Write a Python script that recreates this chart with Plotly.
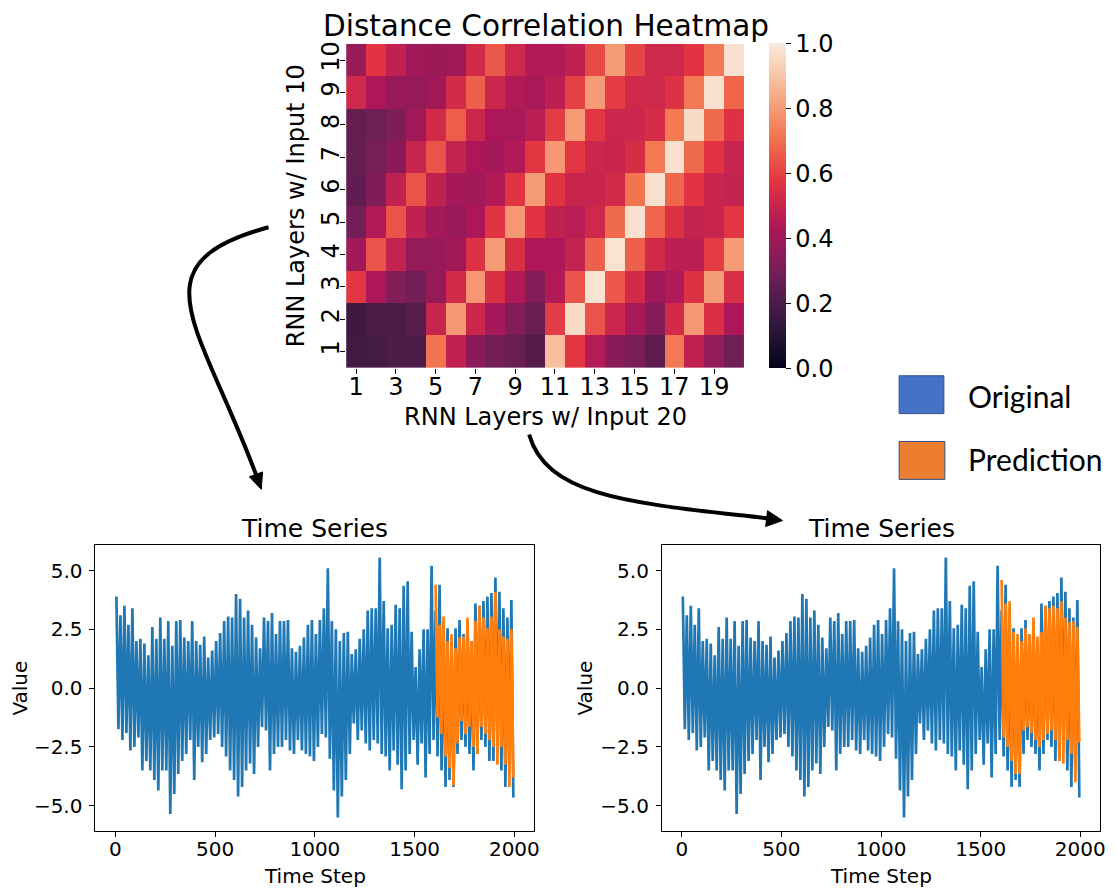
import plotly.graph_objects as go

# ---------------- data ----------------
heat_cols = list(range(1, 21))          # RNN layers w/ input 20
heat_rows = list(range(1, 11))          # RNN layers w/ input 10
heat_z = [
    [0.17, 0.18, 0.20, 0.20, 0.71, 0.48, 0.35, 0.29, 0.27, 0.22, 0.88, 0.58, 0.45, 0.34, 0.31, 0.24, 0.72, 0.48, 0.37, 0.28],
    [0.16, 0.20, 0.20, 0.23, 0.50, 0.79, 0.51, 0.41, 0.33, 0.27, 0.59, 0.96, 0.64, 0.51, 0.42, 0.33, 0.53, 0.79, 0.55, 0.43],
    [0.58, 0.43, 0.33, 0.29, 0.37, 0.53, 0.79, 0.55, 0.44, 0.33, 0.44, 0.64, 0.98, 0.65, 0.53, 0.40, 0.44, 0.56, 0.80, 0.55],
    [0.40, 0.64, 0.49, 0.37, 0.37, 0.40, 0.56, 0.80, 0.55, 0.43, 0.43, 0.49, 0.67, 0.98, 0.67, 0.53, 0.47, 0.47, 0.59, 0.80],
    [0.29, 0.44, 0.64, 0.48, 0.41, 0.38, 0.43, 0.57, 0.79, 0.57, 0.48, 0.46, 0.52, 0.69, 0.97, 0.68, 0.56, 0.49, 0.50, 0.58],
    [0.25, 0.32, 0.48, 0.64, 0.48, 0.41, 0.40, 0.44, 0.57, 0.80, 0.57, 0.50, 0.50, 0.53, 0.71, 0.97, 0.68, 0.57, 0.50, 0.49],
    [0.26, 0.30, 0.35, 0.50, 0.64, 0.49, 0.43, 0.41, 0.44, 0.58, 0.79, 0.58, 0.51, 0.50, 0.54, 0.72, 0.97, 0.69, 0.57, 0.50],
    [0.26, 0.28, 0.32, 0.40, 0.53, 0.66, 0.51, 0.43, 0.42, 0.46, 0.59, 0.80, 0.58, 0.51, 0.51, 0.54, 0.72, 0.96, 0.69, 0.56],
    [0.52, 0.43, 0.38, 0.37, 0.40, 0.53, 0.67, 0.51, 0.44, 0.42, 0.47, 0.60, 0.80, 0.59, 0.52, 0.52, 0.56, 0.72, 0.97, 0.68],
    [0.38, 0.57, 0.48, 0.40, 0.39, 0.40, 0.53, 0.65, 0.52, 0.44, 0.44, 0.48, 0.62, 0.80, 0.61, 0.52, 0.52, 0.57, 0.72, 0.97],
]
heat_xticks = [1, 3, 5, 7, 9, 11, 13, 15, 17, 19]
cbar_ticks = [0.0, 0.2, 0.4, 0.6, 0.8, 1.0]

# time series read as per-bin upper / lower extremes (bins of 20 time steps)
BIN = 20
orig_start = 0
orig_hi = [3.9, 3.1, 3.5, 2.7, 3.4, 2.0, 2.1, 1.9, 1.4, 2.6,
           2.1, 3.0, 2.1, 2.85, 1.8, 2.85, 2.9, 2.15, 2.0, 2.85,
           2.0, 1.85, 2.2, 1.3, 1.6, 2.0, 2.35, 2.85, 3.05, 3.0,
           4.0, 3.8, 3.0, 3.3, 2.7, 2.15, 1.7, 3.0, 2.85, 3.2,
           2.3, 2.85, 2.85, 2.9, 1.7, 1.55, 1.8, 2.15, 2.7, 2.9,
           2.3, 2.9, 3.4, 5.1, 2.85, 2.5, 2.0, 2.35, 2.4, 1.45,
           1.65, 2.1, 2.5, 3.3, 3.4, 3.4, 5.55, 3.7, 2.55, 2.7,
           3.55, 3.4, 4.35, 4.55, 2.4, 0.9, 1.65, 2.5, 2.5, 5.2,
           3.3, 4.4, 2.7, 2.55, 2.0, 2.55, 2.9, 2.3, 2.9, 2.0,
           3.6, 3.5, 3.7, 3.9, 4.05, 4.7, 4.1, 3.4, 3.0, 3.75]
orig_lo = [-1.75, -2.2, -1.9, -2.65, -2.5, -2.1, -3.5, -3.1, -3.5, -3.9,
           -4.35, -3.5, -3.5, -5.35, -4.5, -3.65, -3.1, -2.8, -2.2, -3.9,
           -2.5, -3.15, -2.8, -2.2, -2.1, -1.95, -2.5, -2.9, -3.5, -3.9,
           -4.6, -4.2, -3.5, -3.2, -3.65, -2.5, -1.65, -1.8, -3.5, -2.8,
           -2.5, -2.5, -2.2, -2.65, -2.8, -2.2, -2.65, -2.8, -2.9, -3.1,
           -2.5, -1.95, -2.1, -3.0, -4.35, -5.5, -4.6, -3.9, -2.8, -1.5,
           -2.2, -1.8, -2.35, -2.65, -2.2, -2.35, -2.8, -2.9, -3.5, -2.65,
           -3.25, -4.3, -3.5, -2.8, -2.2, -3.25, -2.35, -3.8, -2.8, -2.2,
           -2.9, -3.5, -4.2, -3.9, -4.2, -2.8, -2.2, -2.5, -2.8, -3.5,
           -2.8, -2.2, -2.5, -3.1, -3.1, -2.5, -3.5, -4.2, -3.5, -4.65]

pred_start = 1600
pred1_hi = [4.4, 2.7, 3.05, 2.0, 2.3, 1.7, 2.15, 2.2, 3.0, 2.0,
            2.85, 3.5, 3.0, 2.55, 3.05, 4.1, 2.5, 2.2, 2.1, 2.5]
pred1_lo = [-1.25, -1.95, -2.9, -3.4, -4.15, -2.35, -1.4, -1.95, -1.65, -2.5,
            -2.8, -1.65, -1.95, -2.2, -2.5, -3.25, -2.5, -3.25, -4.2, -3.8]
pred2_hi = [4.6, 3.6, 3.7, 2.4, 2.3, 2.0, 2.55, 2.3, 3.0, 2.2,
            2.4, 3.5, 3.4, 3.5, 3.4, 3.7, 3.0, 2.8, 2.85, 2.6]
pred2_lo = [-2.1, -2.5, -3.1, -3.65, -3.65, -1.8, -1.65, -1.9, -2.2, -2.5,
            -2.2, -1.95, -1.8, -2.2, -3.1, -3.2, -2.2, -2.8, -4.0, -2.3]

ts_xticks = [0, 500, 1000, 1500, 2000]
ts_yticks = [-5.0, -2.5, 0.0, 2.5, 5.0]

# ---------------- helpers ----------------
W, H = 1115, 888
FONT = "DejaVu Sans"
BLUE = "#1f77b4"
ORANGE = "#ff7f0e"

rocket = [
    [0.0, "#03051A"], [0.143, "#35193E"], [0.286, "#701F57"], [0.429, "#AD1759"],
    [0.571, "#E13342"], [0.714, "#F37651"], [0.857, "#F6B48F"], [1.0, "#FAEBDD"],
]


def zigzag(start, hi, lo):
    xs, ys = [], []
    for i, (h, l) in enumerate(zip(hi, lo)):
        t0 = start + i * BIN
        xs += [t0 + BIN * 0.25, t0 + BIN * 0.75]
        ys += [h, l]
    return xs, ys


def px(x):
    return x / W


def py(y):
    return 1 - y / H


def path(cmds):
    out = []
    for c in cmds:
        op, pts = c[0], c[1:]
        out.append(op + " " + " ".join(f"{px(a):.5f},{py(b):.5f}" for a, b in pts))
    return " ".join(out)


fig = go.Figure()

fig.add_trace(go.Heatmap(
    x=heat_cols, y=heat_rows, z=heat_z, zmin=0, zmax=1,
    colorscale=rocket, xaxis="x", yaxis="y",
    colorbar=dict(
        x=px(773), xanchor="left", xpad=0, ypad=0,
        y=py(203.5), yanchor="middle",
        len=325, lenmode="pixels", thickness=17, thicknessmode="pixels",
        outlinewidth=0, ticks="outside", ticklen=5, tickwidth=1, tickcolor="black",
        tickvals=cbar_ticks, tickformat=".1f",
        tickfont=dict(family=FONT, size=24, color="black"),
    ),
))

for (xa, ya, hi, lo) in [("x2", "y2", pred1_hi, pred1_lo), ("x3", "y3", pred2_hi, pred2_lo)]:
    bx, by = zigzag(orig_start, orig_hi, orig_lo)
    fig.add_trace(go.Scatter(x=bx, y=by, mode="lines",
                             line=dict(color=BLUE, width=2.7, simplify=False),
                             xaxis=xa, yaxis=ya, hoverinfo="skip"))
    ox, oy = zigzag(pred_start, hi, lo)
    fig.add_trace(go.Scatter(x=ox, y=oy, mode="lines",
                             line=dict(color=ORANGE, width=2.7, simplify=False),
                             xaxis=xa, yaxis=ya, hoverinfo="skip"))

tickfont_ts = dict(family=FONT, size=20, color="black")
ts_x = dict(range=[-100, 2099], tickvals=ts_xticks, ticks="outside", ticklen=5, tickwidth=1,
            tickcolor="black", showline=True, mirror=True, linecolor="black", linewidth=1,
            showgrid=False, zeroline=False, tickfont=tickfont_ts, ticklabelstandoff=-5)
ts_y = dict(range=[-6.08, 6.08], tickvals=ts_yticks, tickformat=".1f", ticks="outside", ticklen=5,
            tickwidth=1, tickcolor="black", showline=True, mirror=True, linecolor="black",
            linewidth=1, showgrid=False, zeroline=False, tickfont=tickfont_ts, ticklabelstandoff=3)

ydom = [py(831), py(544)]
fig.update_layout(
    width=W, height=H, margin=dict(l=0, r=0, t=0, b=0),
    paper_bgcolor="white", plot_bgcolor="white", showlegend=False,
    xaxis=dict(domain=[px(348), px(748)], anchor="y", range=[0.5, 20.5], tickvals=heat_xticks,
               ticks="outside", ticklen=5, tickwidth=1, tickcolor="black", showline=False,
               showgrid=False, zeroline=False, ticklabelstandoff=-8,
               tickfont=dict(family=FONT, size=24, color="black")),
    yaxis=dict(domain=[py(366), py(41)], anchor="x", range=[0.5, 10.5], tickvals=heat_rows,
               tickangle=-90, ticks="outside", ticklen=5, tickwidth=1, tickcolor="black",
               showline=False, showgrid=False, zeroline=False, ticklabelstandoff=-8,
               tickfont=dict(family=FONT, size=24, color="black")),
    xaxis2=dict(domain=[px(96), px(537)], anchor="y2", **ts_x),
    yaxis2=dict(domain=ydom, anchor="x2", **ts_y),
    xaxis3=dict(domain=[px(665.5), px(1106)], anchor="y3", **ts_x),
    yaxis3=dict(domain=ydom, anchor="x3", **ts_y),
)


def ann(text, x, y, size, angle=0, xanchor="center", family=FONT):
    fig.add_annotation(text=text, x=px(x), y=py(y), xref="paper", yref="paper",
                       showarrow=False, textangle=angle, xanchor=xanchor, yanchor="middle",
                       font=dict(family=family, size=size, color="black"))


ann("Distance Correlation Heatmap", 549, 23, 29.5)
ann("RNN Layers w/ Input 20", 548, 415, 24)
ann("RNN Layers w/ Input 10", 297, 203.5, 24, angle=-90)
for cx, vx in [(316.5, 20), (886, 588)]:
    ann("Time Series", cx, 527, 25)
    ann("Time Step", cx, 876, 20)
    ann("Value", vx, 687, 20, angle=-90)

# legend boxes
fig.add_shape(type="rect", xref="paper", yref="paper", x0=px(904), x1=px(949), y0=py(412), y1=py(374),
              fillcolor="#4472C4", line=dict(color="#2F528F", width=1))
fig.add_shape(type="rect", xref="paper", yref="paper", x0=px(904), x1=px(950), y0=py(478), y1=py(440),
              fillcolor="#ED7D31", line=dict(color="#2F528F", width=1))
ann("Original", 971, 394, 30, xanchor="left", family="Lato")
ann("Prediction", 971, 458, 30, xanchor="left", family="Lato")

# curved arrows
fig.add_shape(type="path", xref="paper", yref="paper",
              path=path([("M", (270, 225)), ("C", (135, 262), (200, 320), (257.3, 472.9))]),
              line=dict(color="black", width=4))
fig.add_shape(type="path", xref="paper", yref="paper",
              path=path([("M", (262.7, 488)), ("L", (250.7, 475.4)), ("L", (264.0, 470.5)), ("Z",)]),
              fillcolor="black", line=dict(color="black", width=1))
fig.add_shape(type="path", xref="paper", yref="paper",
              path=path([("M", (532, 433)), ("C", (550, 497), (640, 502), (771, 517))]),
              line=dict(color="black", width=4))
fig.add_shape(type="path", xref="paper", yref="paper",
              path=path([("M", (786.7, 519.3)), ("L", (769.8, 525.3)), ("L", (771.7, 509.4)), ("Z",)]),
              fillcolor="black", line=dict(color="black", width=1))

fig.write_html("out.html")
